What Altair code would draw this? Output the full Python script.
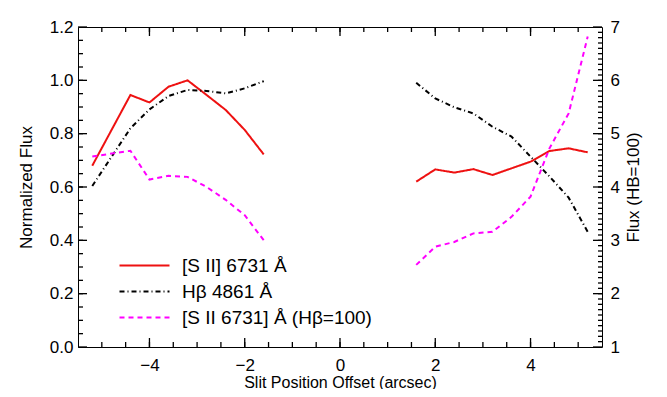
import altair as alt
import pandas as pd

# ---- data ----
S_RED = "[S II] 6731 Å"
S_BLK = "Hβ 4861 Å"
S_MAG = "[S II 6731] Å (Hβ=100)"

x_left = [-5.2, -4.4, -4.0, -3.6, -3.2, -2.8, -2.4, -2.0, -1.6]
red_left = [0.68, 0.945, 0.917, 0.976, 1.0, 0.945, 0.889, 0.814, 0.722]
black_left = [0.604, 0.82, 0.891, 0.941, 0.964, 0.96, 0.951, 0.97, 0.997]
mag_left = [4.57, 4.68, 4.14, 4.21, 4.19, 4.0, 3.76, 3.47, 3.0]

x_right = [1.6, 2.0, 2.4, 2.8, 3.2, 3.6, 4.0, 4.4, 4.8, 5.2]
red_right = [0.62, 0.666, 0.654, 0.667, 0.645, 0.67, 0.695, 0.735, 0.745, 0.73]
black_right = [0.991, 0.932, 0.899, 0.876, 0.826, 0.789, 0.714, 0.639, 0.56, 0.432]
mag_right = [2.54, 2.88, 2.97, 3.13, 3.16, 3.44, 3.82, 4.73, 5.38, 6.82]

# tick positions
x_major = [-4, -2, 0, 2, 4]
x_minor = [v / 2 for v in range(-10, 11)]
yl_major = [0.0, 0.2, 0.4, 0.6, 0.8, 1.0, 1.2]
yl_minor = [v * 0.05 for v in range(1, 24)]
yr_major = [1, 2, 3, 4, 5, 6, 7]
yr_minor = [1 + v * 0.1 for v in range(1, 60)]

series_order = [S_RED, S_BLK, S_MAG]
series_colors = ["#ee1111", "#000000", "#ff00ff"]
series_dash = [[1, 0], [5, 3, 1, 3], [5, 4]]

W, H = 524, 320
MAJ, MIN = 9, 5

# ---- tables ----
left_rows = []
for seg, xs, r, b in [("L", x_left, red_left, black_left), ("R", x_right, red_right, black_right)]:
    for xv, rv, bv in zip(xs, r, b):
        left_rows.append({"x": xv, "val": rv, "series": S_RED, "seg": seg})
        left_rows.append({"x": xv, "val": bv, "series": S_BLK, "seg": seg})
df_left = pd.DataFrame(left_rows)

right_rows = []
for seg, xs, m in [("L", x_left, mag_left), ("R", x_right, mag_right)]:
    for xv, mv in zip(xs, m):
        right_rows.append({"x": xv, "val": mv, "series": S_MAG, "seg": seg})
df_right = pd.DataFrame(right_rows)

FONT = "Liberation Sans"
xscale = alt.Scale(domain=[-5.5, 5.5], nice=False, zero=False)
ylscale = alt.Scale(domain=[0, 1.2], nice=False, zero=False)
yrscale = alt.Scale(domain=[1, 7], nice=False, zero=False)

legend = alt.Legend(
    title=None, orient="none", legendX=57, legendY=229, padding=0,
    labelFont=FONT, labelFontSize=19, labelColor="black", labelLimit=500,
    symbolType="M-5,0H5", symbolSize=100, symbolStrokeWidth=2,
    labelOffset=28, rowPadding=6,
)
color = alt.Color("series:N", scale=alt.Scale(domain=series_order, range=series_colors), legend=legend)
dash = alt.StrokeDash("series:N", scale=alt.Scale(domain=series_order, range=series_dash), legend=legend)


def ax(orient, values, title, pad, fmt, tpad, tsize=17, tangle=None):
    kw = dict(orient=orient, values=values, ticks=False, domain=False, grid=False,
              labelFont=FONT, labelFontSize=17, labelColor="black", labelPadding=pad, format=fmt,
              title=title, titleFont=FONT, titleFontSize=tsize, titleFontWeight="normal",
              titleColor="black", titlePadding=tpad)
    if tangle is not None:
        kw["titleAngle"] = tangle
    return alt.Axis(**kw)


l1 = alt.Chart(df_left).mark_line(strokeWidth=2, clip=True).encode(
    x=alt.X("x:Q", scale=xscale, axis=ax("bottom", x_major, "Slit Position Offset (arcsec)", 10, "d", 1, tsize=16)),
    y=alt.Y("val:Q", scale=ylscale, axis=ax("left", yl_major, "Normalized Flux", 5, ".1f", 14)),
    color=color, strokeDash=dash, detail="seg:N",
)
l2 = alt.Chart(df_right).mark_line(strokeWidth=2, clip=True).encode(
    x=alt.X("x:Q", scale=xscale, axis=None),
    y=alt.Y("val:Q", scale=yrscale, axis=ax("right", yr_major, "Flux (HB=100)", 8, "d", 23, tangle=270)),
    color=color, strokeDash=dash, detail="seg:N",
)

TICK_COLOR = "#000000"
TICK_WIDTH = 1.3


def yticks(values, scale, length, side):
    d = pd.DataFrame({"v": values})
    x0, x1 = (0, length) if side == "left" else (W - length, W)
    return alt.Chart(d).mark_rule(color=TICK_COLOR, strokeWidth=TICK_WIDTH).encode(
        y=alt.Y("v:Q", scale=scale, axis=None),
        x=alt.value(x0), x2=alt.value(x1),
    )


def xticks(values, length, side):
    d = pd.DataFrame({"v": values})
    y0, y1 = (H - length, H) if side == "bottom" else (0, length)
    return alt.Chart(d).mark_rule(color=TICK_COLOR, strokeWidth=TICK_WIDTH).encode(
        x=alt.X("v:Q", scale=xscale, axis=None),
        y=alt.value(y0), y2=alt.value(y1),
    )


tick_layers = [
    yticks(yl_minor, ylscale, MIN, "left"),
    yticks(yl_major, ylscale, MAJ, "left"),
    yticks(yr_minor, yrscale, 4, "right"),
    yticks(yr_major, yrscale, MAJ, "right"),
    xticks(x_minor, MIN, "bottom"),
    xticks(x_major, MAJ, "bottom"),
    xticks(x_minor, MIN, "top"),
    xticks(x_major, MAJ, "top"),
]

chart = alt.layer(l1, l2, *tick_layers).resolve_scale(y="independent").resolve_axis(
    x="independent", y="independent"
).properties(
    width=W, height=H,
    autosize=alt.AutoSizeParams(type="none"),
    padding={"left": 70, "top": 19, "right": 57, "bottom": 42},
    background="white",
).configure_view(stroke="black", strokeWidth=1)

chart.save("out.html", embed_options={"renderer": "svg", "actions": False})
